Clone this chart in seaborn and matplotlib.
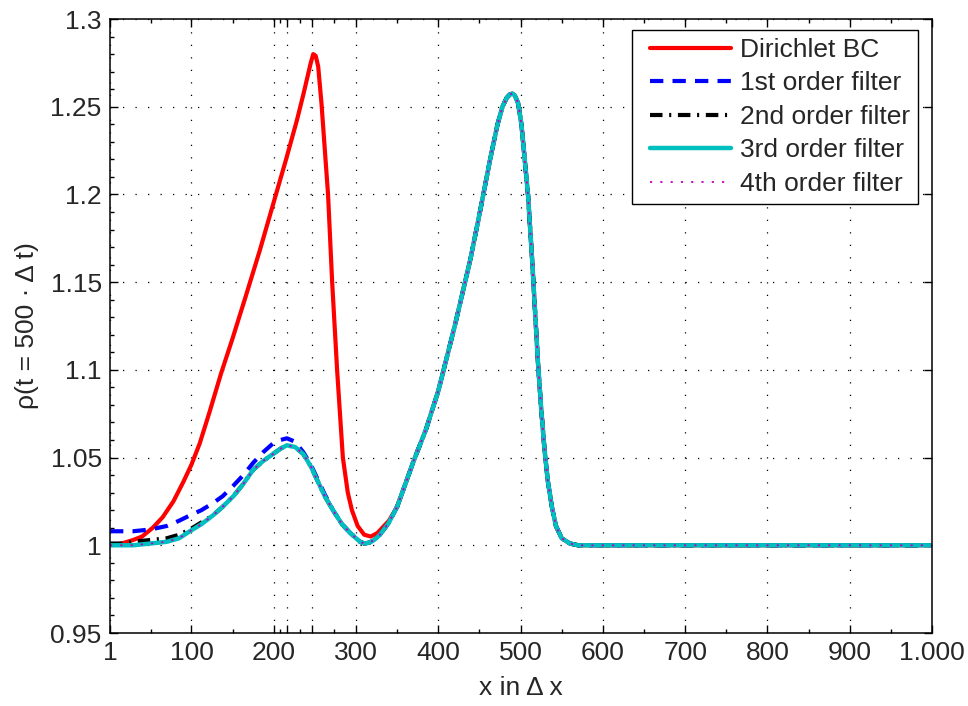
import numpy as np
import pandas as pd
import matplotlib
matplotlib.use("Agg")
import matplotlib.pyplot as plt
import seaborn as sns
from matplotlib.ticker import FixedLocator, MultipleLocator
from matplotlib.legend_handler import HandlerLine2D
from matplotlib.lines import Line2D

# ---------------- data ----------------
red_x = [1, 15, 29, 40, 53, 65, 78, 90, 100, 110, 122, 136, 150, 166, 183, 199, 215, 228,
         236, 242, 245, 248, 251, 254, 258, 262, 266, 271, 277, 284, 290, 295, 302, 310,
         318, 326, 334, 340, 350, 360, 370, 385, 400, 420, 439, 451, 463, 472, 478, 483,
         487, 490, 493, 497, 501, 505, 509, 514, 518, 521, 525, 529, 533, 538, 543, 550,
         560, 570, 600, 700, 800, 900, 1000]
red_y = [1.000, 1.001, 1.003, 1.005, 1.010, 1.016, 1.025, 1.036, 1.046, 1.058, 1.076, 1.098,
         1.118, 1.142, 1.168, 1.194, 1.220, 1.242, 1.257, 1.269, 1.275, 1.280, 1.279, 1.273,
         1.252, 1.226, 1.200, 1.150, 1.100, 1.050, 1.030, 1.020, 1.011, 1.006, 1.005, 1.007,
         1.011, 1.014, 1.022, 1.035, 1.048, 1.066, 1.088, 1.125, 1.163, 1.191, 1.220, 1.240,
         1.250, 1.255, 1.2570, 1.2575, 1.2565, 1.252, 1.240, 1.220, 1.200, 1.163, 1.130,
         1.105, 1.078, 1.055, 1.037, 1.022, 1.011, 1.004, 1.001, 1.000, 1.000, 1.000, 1.000,
         1.000, 1.000]

filt_x = [1, 15, 29, 50, 70, 85, 98, 112, 126, 138, 151, 163, 175, 187, 199, 208, 216, 226,
          236, 245, 253, 262, 272, 283, 293, 300, 305, 310, 316, 322, 329, 340, 350, 360,
          370, 385, 400, 420, 439, 451, 463, 472, 478, 483, 487, 490, 493, 497, 501, 505,
          509, 514, 518, 521, 525, 529, 533, 538, 543, 550, 560, 570, 600, 700, 800, 900, 1000]
_hump2 = [1.0015, 1.003, 1.006, 1.013, 1.022, 1.035, 1.048, 1.066, 1.088, 1.125, 1.163,
          1.191, 1.220, 1.240, 1.250, 1.255, 1.2570, 1.2575, 1.2565, 1.252, 1.240, 1.220,
          1.200, 1.163, 1.130, 1.105, 1.078, 1.055, 1.037, 1.022, 1.011, 1.004, 1.001, 1.000,
          1.000, 1.000, 1.000, 1.000, 1.000]
first_y = [1.008, 1.008, 1.008, 1.009, 1.011, 1.014, 1.017, 1.020, 1.024, 1.028, 1.034, 1.040,
           1.047, 1.053, 1.058, 1.060, 1.061, 1.059, 1.053, 1.046, 1.038, 1.029, 1.020, 1.012,
           1.007, 1.004, 1.002, 1.001] + _hump2
second_y = [1.001, 1.001, 1.002, 1.003, 1.004, 1.006, 1.009, 1.013, 1.017, 1.022, 1.028, 1.035,
            1.043, 1.048, 1.052, 1.055, 1.057, 1.056, 1.052, 1.045, 1.037, 1.028, 1.020, 1.012,
            1.007, 1.004, 1.002, 1.001] + _hump2
third_y = [1.000, 1.000, 1.000, 1.001, 1.002, 1.004, 1.008, 1.012, 1.017, 1.022, 1.028, 1.035,
           1.043, 1.048, 1.052, 1.055, 1.057, 1.056, 1.052, 1.045, 1.037, 1.028, 1.020, 1.012,
           1.007, 1.004, 1.002, 1.001] + _hump2
fourth_y = list(third_y)

series_labels = ["Dirichlet BC", "1st order filter", "2nd order filter",
                 "3rd order filter", "4th order filter"]

xtick_vals = [1, 100, 200, 216, 247, 300, 400, 500, 600, 700, 800, 900, 1000]
xtick_labels = ["1", "100", "200", "", "", "300", "400", "500", "600", "700", "800", "900", "1.000"]
ytick_vals = [0.95, 1.0, 1.05, 1.1, 1.15, 1.2, 1.25, 1.3]
ytick_labels = ["0.95", "1", "1.05", "1.1", "1.15", "1.2", "1.25", "1.3"]

# ---------------- style ----------------
sns.set_style("ticks")
plt.rcParams["font.family"] = ["Liberation Sans", "DejaVu Sans"]

FS = 19

fig = plt.figure(figsize=(9.68, 7.06), dpi=100)
ax = fig.add_axes([110 / 968, 1 - 633 / 706, (932 - 110) / 968, (633 - 19) / 706])

styles = [
    dict(color="#ff0000", lw=3.0, linestyle="-"),
    dict(color="#0000ff", lw=3.0, linestyle=(0, (3.2, 2.2))),
    dict(color="#000000", lw=3.0, linestyle=(0, (3.0, 1.6, 0.5, 1.6))),
    dict(color="#00bfbf", lw=3.2, linestyle="-"),
    dict(color="#bf00bf", lw=1.3, linestyle=(0, (1.2, 4.5))),
]
datasets = [(red_x, red_y), (filt_x, first_y), (filt_x, second_y),
            (filt_x, third_y), (filt_x, fourth_y)]

for (xs, ys), lab, st in zip(datasets, series_labels, styles):
    df = pd.DataFrame({"x": xs, "y": ys})
    sns.lineplot(data=df, x="x", y="y", ax=ax, label=lab, errorbar=None,
                 color=st["color"], linewidth=st["lw"], linestyle=st["linestyle"])

ax.set_xlim(1, 1000)
ax.set_ylim(0.95, 1.3)
ax.xaxis.set_major_locator(FixedLocator(xtick_vals))
ax.set_xticklabels(xtick_labels)
mids = [(a + b) / 2 for a, b in zip(xtick_vals[:-1], xtick_vals[1:])]
ax.xaxis.set_minor_locator(FixedLocator(mids))
ax.yaxis.set_major_locator(FixedLocator(ytick_vals))
ax.set_yticklabels(ytick_labels)
ax.yaxis.set_minor_locator(MultipleLocator(0.01))

ax.tick_params(which="both", direction="in", top=True, right=True, labelsize=FS,
               width=1.0, color="black")
ax.tick_params(which="major", length=6, pad=6)
ax.tick_params(which="minor", length=3)
ax.tick_params(axis="y", which="minor", right=False)

ax.grid(True, which="major", color="black", linestyle=(0, (1, 9)), linewidth=0.9)
for sp in ax.spines.values():
    sp.set_linewidth(1.1)
    sp.set_color("black")

ax.set_xlabel("x in Δ x", fontsize=FS, labelpad=8)
ax.set_ylabel("ρ(t = 500 · Δ t)", fontsize=FS, labelpad=8)


class PadHandler(HandlerLine2D):
    """Line handle with some blank room on its left (MATLAB-like legend)."""
    def get_xdata(self, legend, xdescent, ydescent, width, height, fontsize):
        xd, xm = super().get_xdata(legend, xdescent, ydescent, width, height, fontsize)
        xd = [xd[0] + 7.5, xd[-1]]
        return xd, xm


handles, labels = ax.get_legend_handles_labels()
leg = ax.legend(handles, labels, loc="upper right",
                bbox_to_anchor=(1 - 14 / 822, 1 - 11 / 614), borderaxespad=0,
                fontsize=FS, frameon=True, fancybox=False,
                edgecolor="black", framealpha=1, handlelength=3.45, handletextpad=0.34,
                labelspacing=0.36, borderpad=0.3,
                handler_map={Line2D: PadHandler()})
leg.get_frame().set_linewidth(1.0)

fig.savefig("out.png", dpi=100)
